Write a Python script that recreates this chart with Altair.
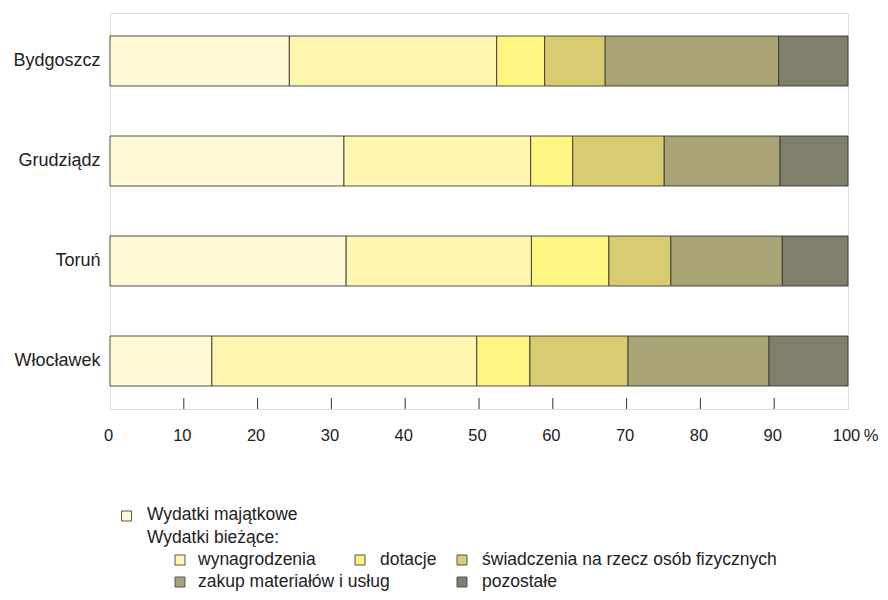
import altair as alt
import pandas as pd

cities = ["Bydgoszcz", "Grudziądz", "Toruń", "Włocławek"]
categories = [
    "Wydatki majątkowe",
    "wynagrodzenia",
    "dotacje",
    "świadczenia na rzecz osób fizycznych",
    "zakup materiałów i usług",
    "pozostałe",
]
colors = ["#FFF9D6", "#FFF6B0", "#FFF582", "#D9CC70", "#A8A475", "#807F6C"]

# shares (%) per category, in the order of cities
wydatki_majatkowe = [24.3, 31.7, 32.0, 13.8]
wynagrodzenia = [28.1, 25.3, 25.1, 35.9]
dotacje = [6.5, 5.7, 10.5, 7.2]
swiadczenia = [8.2, 12.4, 8.4, 13.3]
zakup = [23.5, 15.7, 15.1, 19.1]
pozostale = [9.4, 9.2, 8.9, 10.7]

series = [wydatki_majatkowe, wynagrodzenia, dotacje, swiadczenia, zakup, pozostale]
tick_values = list(range(0, 101, 10))

rows = []
for ci, (cat, vals) in enumerate(zip(categories, series)):
    for city, v in zip(cities, vals):
        rows.append({"city": city, "cat": cat, "order": ci, "value": v})
df = pd.DataFrame(rows)

W, H = 738, 396
FONT = "Liberation Sans"
TXT = "#222222"

bars = alt.Chart(df).mark_bar(stroke="#333333", strokeWidth=1, strokeOpacity=0.85).encode(
    x=alt.X("value:Q", stack="zero",
            scale=alt.Scale(domain=[0, 100], nice=False, zero=True),
            axis=alt.Axis(values=tick_values, ticks=False, domain=False, grid=False,
                          labelFlush=False, labelFontSize=16.5, labelPadding=18,
                          labelOffset=-2,
                          labelColor=TXT, labelFont=FONT, title=None)),
    y=alt.Y("city:N", sort=cities,
            scale=alt.Scale(paddingInner=0.5, paddingOuter=0.23),
            axis=alt.Axis(ticks=False, domain=False, labelFontSize=18, labelPadding=10,
                          labelColor=TXT, labelFont=FONT, title=None)),
    color=alt.Color("cat:N", scale=alt.Scale(domain=categories, range=colors), legend=None),
    order=alt.Order("order:Q"),
)

ticks = alt.Chart(pd.DataFrame({"t": tick_values[1:-1]})).mark_rule(
    color="#333333", strokeWidth=1
).encode(
    x=alt.X("t:Q"),
    y=alt.value(H - 11),
    y2=alt.value(H),
)

pct = alt.Chart(pd.DataFrame({"s": ["%"]})).mark_text(
    fontSize=16.5, font=FONT, color=TXT, align="center", baseline="middle"
).encode(x=alt.value(761), y=alt.value(H + 27), text="s:N")

# legend layout (pixel positions relative to the plot area)
legend_box_pos = [(16.5, 503), (70, 547), (250, 547), (352, 547), (70, 569), (352, 569)]
legend_text_pos = [(37, 502), (88, 547), (270, 547), (372, 547), (88, 569), (372, 569)]
legend_layers = []
for cat, col, (bx, by), (tx, ty) in zip(categories, colors, legend_box_pos, legend_text_pos):
    d = pd.DataFrame({"label": [cat]})
    legend_layers.append(
        alt.Chart(d).mark_square(size=100, fill=col, stroke="#555555", strokeWidth=1, opacity=1)
        .encode(x=alt.value(bx), y=alt.value(by))
    )
    legend_layers.append(
        alt.Chart(d).mark_text(fontSize=17.5, font=FONT, color=TXT, align="left", baseline="middle")
        .encode(x=alt.value(tx), y=alt.value(ty), text="label:N")
    )
legend_layers.append(
    alt.Chart(pd.DataFrame({"label": ["Wydatki bieżące:"]})).mark_text(
        fontSize=17.5, font=FONT, color=TXT, align="left", baseline="middle")
    .encode(x=alt.value(37), y=alt.value(525), text="label:N")
)

chart = alt.layer(bars, ticks, pct, *legend_layers).properties(
    width=W, height=H,
    padding={"left": 102, "top": 5, "right": 32, "bottom": 183},
    autosize=alt.AutoSizeParams(type="none"),
).configure_view(stroke="#222222", strokeWidth=1).configure(font=FONT, background="white")

chart.save("out.html", embed_options={"renderer": "svg", "actions": False})
